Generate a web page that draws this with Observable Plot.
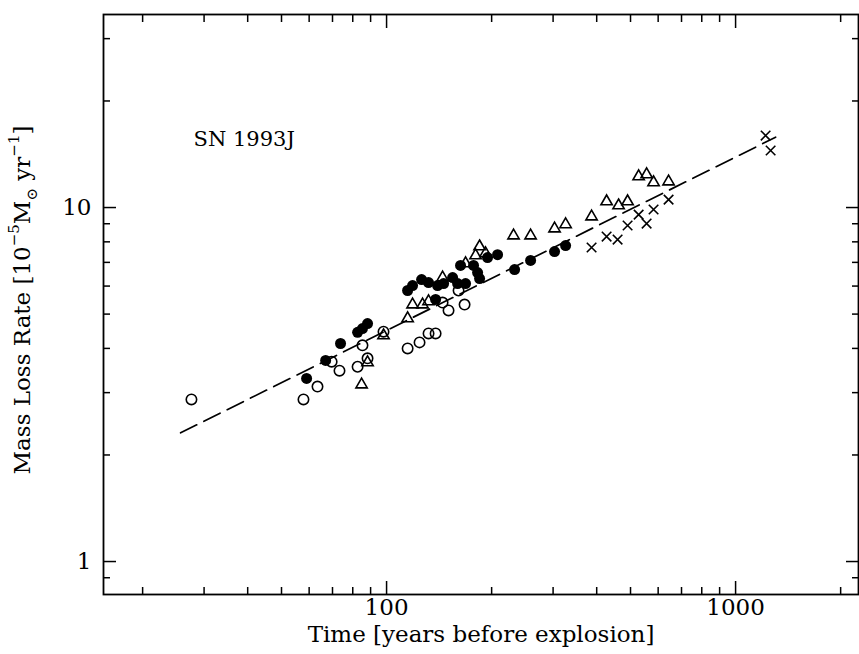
<!DOCTYPE html>
<html><head><meta charset="utf-8">
<script src="https://cdn.jsdelivr.net/npm/d3@7"></script>
<script src="https://cdn.jsdelivr.net/npm/@observablehq/plot@0.6"></script>
<style>body{margin:0;background:#fff}</style>
</head><body><div id="chart"></div>
<script>
// Filled circles
const filledT = [59.0, 66.9, 73.8, 82.6, 85.3, 88.2, 114.9, 118.7, 126.0, 131.9, 138.2, 140.0, 145.7, 154.6, 159.8, 168.4, 162.9, 177.5, 182.3, 184.7, 194.7, 208.0, 232.7, 258.6, 302.9, 325.8];
const filledM = [3.29, 3.70, 4.13, 4.44, 4.55, 4.70, 5.83, 6.02, 6.26, 6.14, 5.50, 6.02, 6.10, 6.34, 6.10, 6.10, 6.86, 6.86, 6.55, 6.30, 7.22, 7.36, 6.68, 7.09, 7.51, 7.81];
// Open circles
const openT = [27.6, 57.8, 63.4, 69.6, 73.3, 82.6, 85.3, 88.2, 98.0, 114.9, 124.3, 131.9, 138.2, 144.7, 150.5, 167.3, 160.8];
const openM = [2.87, 2.87, 3.12, 3.67, 3.46, 3.55, 4.08, 3.75, 4.46, 4.00, 4.16, 4.41, 4.41, 5.39, 5.12, 5.32, 5.83];
// Open triangles
const triT = [84.8, 88.2, 98.0, 114.9, 118.7, 126.8, 131.9, 144.7, 168.4, 179.9, 184.7, 192.1, 231.1, 258.6, 302.9, 325.8, 386.7, 427.0, 462.1, 490.4, 527.5, 556.0, 582.1, 642.7];
const triM = [3.16, 3.65, 4.35, 4.86, 5.32, 5.32, 5.43, 6.34, 6.95, 7.32, 7.76, 7.42, 8.33, 8.33, 8.72, 8.96, 9.43, 10.40, 10.13, 10.40, 12.24, 12.40, 11.77, 11.84];
// Crosses
const crossT = [386.7, 427.0, 459.1, 490.4, 527.5, 556.0, 582.1, 642.7, 1219, 1260];
const crossM = [7.71, 8.28, 8.12, 8.90, 9.55, 9.01, 9.87, 10.53, 15.97, 14.49];
// Dashed fit line end points
const fitT = [25.7, 1302];
const fitM = [2.31, 15.8];
// Ticks
const majorX = [100, 1000];
const minorX = [20, 30, 40, 50, 60, 70, 80, 90, 200, 300, 400, 500, 600, 700, 800, 900, 2000];
const majorY = [1, 10];
const minorY = [0.9, 2, 3, 4, 5, 6, 7, 8, 9, 20, 30];

const rows = (xs, ys) => xs.map((x, i) => ({x, y: ys[i]}));
const blank = () => "";
const font = "DejaVu Serif";
const sw = 1.6;
const fs = 23;

const chart = Plot.plot({
  width: 859, height: 654,
  marginLeft: 103, marginRight: 1, marginTop: 14, marginBottom: 60,
  style: {fontFamily: font, fontSize: fs + "px", background: "white", color: "black", overflow: "visible"},
  x: {type: "log", domain: [15.45, 2250]},
  y: {type: "log", domain: [0.807, 35.1]},
  marks: [
    Plot.axisX(majorX, {anchor: "bottom", tickSize: -13, tickPadding: 17, tickFormat: d => String(d), label: null, strokeWidth: 1.5}),
    Plot.axisX(minorX, {anchor: "bottom", tickSize: -7, tickFormat: blank, label: null, strokeWidth: 1.5}),
    Plot.axisX(majorX, {anchor: "top", tickSize: -13, tickFormat: blank, label: null, strokeWidth: 1.5}),
    Plot.axisX(minorX, {anchor: "top", tickSize: -7, tickFormat: blank, label: null, strokeWidth: 1.5}),
    Plot.axisY(majorY, {anchor: "left", tickSize: -13, tickPadding: 25, tickFormat: d => String(d), label: null, strokeWidth: 1.5}),
    Plot.axisY(minorY, {anchor: "left", tickSize: -7, tickFormat: blank, label: null, strokeWidth: 1.5}),
    Plot.axisY(majorY, {anchor: "right", tickSize: -13, tickFormat: blank, label: null, strokeWidth: 1.5}),
    Plot.axisY(minorY, {anchor: "right", tickSize: -7, tickFormat: blank, label: null, strokeWidth: 1.5}),
    Plot.frame({stroke: "black", strokeWidth: 1.8}),
    Plot.line(rows(fitT, fitM), {x: "x", y: "y", stroke: "black", strokeWidth: 1.7, strokeDasharray: "18,8"}),
    Plot.dot(rows(filledT, filledM), {x: "x", y: "y", r: 5.5, fill: "black", stroke: "none"}),
    Plot.dot(rows(openT, openM), {x: "x", y: "y", r: 5.2, fill: "none", stroke: "black", strokeWidth: sw}),
    Plot.dot(rows(triT, triM), {x: "x", y: "y", symbol: "triangle", r: 4.2, fill: "none", stroke: "black", strokeWidth: sw}),
    Plot.dot(rows(crossT, crossM), {x: "x", y: "y", symbol: "times", r: 4.4, fill: "none", stroke: "black", strokeWidth: sw}),
    Plot.text(["SN 1993J"], {frameAnchor: "top-left", dx: 90, dy: 117, textAnchor: "start", fontSize: 21, fill: "black"}),
    Plot.text(["Time [years before explosion]"], {frameAnchor: "bottom", dy: 47, fontSize: fs, fill: "black"})
  ]
});

const svg = d3.select(chart);
const yl = svg.append("text")
  .attr("transform", "translate(24,300) rotate(-90)")
  .attr("text-anchor", "middle")
  .attr("dominant-baseline", "middle")
  .attr("font-family", font)
  .attr("font-size", fs)
  .attr("fill", "black");
yl.append("tspan").text("Mass Loss Rate [10");
yl.append("tspan").attr("baseline-shift", "super").attr("font-size", 15).text("−5");
yl.append("tspan").text("M");
yl.append("tspan").attr("baseline-shift", "sub").attr("font-size", 15).text("⊙");
yl.append("tspan").text(" yr");
yl.append("tspan").attr("baseline-shift", "super").attr("font-size", 15).text("−1");
yl.append("tspan").text("]");

document.getElementById("chart").appendChild(chart);
</script>
</body></html>
